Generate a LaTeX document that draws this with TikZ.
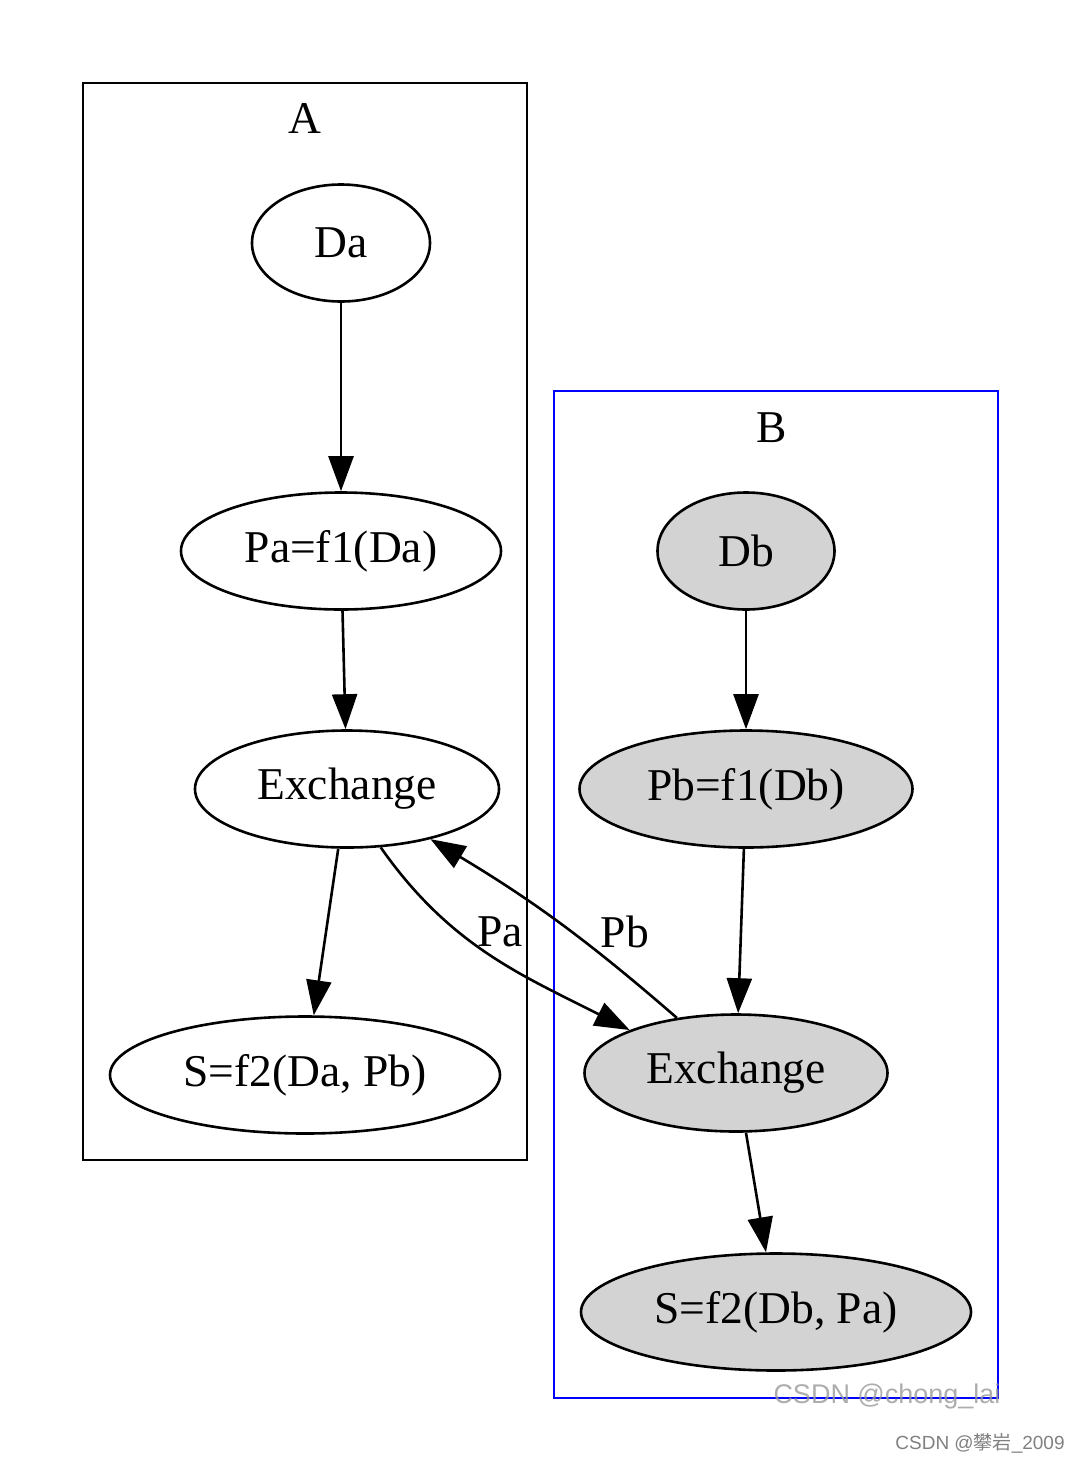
\documentclass[tikz,border=0pt]{standalone}
\usepackage{fontspec}
\setmainfont{Liberation Serif}
\newfontfamily\wmfont{Liberation Sans}
\newfontfamily\cjk{Noto Sans CJK SC}
\usetikzlibrary{shapes.geometric,arrows.meta}
\definecolor{nodegray}{RGB}{211,211,211}
\tikzset{
  gnode/.style={ellipse, draw, line width=2.6pt, inner sep=0pt,
    minimum height=117pt, font=\fontsize{45.5}{50}\selectfont},
  bnode/.style={gnode, fill=nodegray},
  edge/.style={line width=2.6pt, -{Triangle[length=35pt,width=25pt]}},
  cluster/.style={line width=2.6pt},
  elabel/.style={font=\fontsize{45.5}{50}\selectfont}
}
\begin{document}
\begin{tikzpicture}[x=1pt,y=1pt]
  \useasboundingbox (0,0) rectangle (1080,-1462);
  % cluster A
  \draw[cluster] (83,-83) rectangle (527,-1160);
  \node[elabel] (labA) at (305,-118) {A};
  \node[gnode, minimum width=178pt] (da) at (341,-243) {Da};
  \node[gnode, minimum width=320pt] (pa) at (341,-551) {Pa=f1(Da)};
  \node[gnode, minimum width=304pt] (exA) at (347,-789) {Exchange};
  \node[gnode, minimum width=390pt] (sa) at (305,-1075) {S=f2(Da, Pb)};
  % cluster B
  \draw[cluster, blue] (554,-391) rectangle (998,-1398);
  \node[elabel] (labB) at (772,-428) {B};
  \node[bnode, minimum width=177pt] (db) at (746,-551) {Db};
  \node[bnode, minimum width=333pt] (pb) at (746,-789) {Pb=f1(Db)};
  \node[bnode, minimum width=303pt] (exB) at (736,-1073) {Exchange};
  \node[bnode, minimum width=390pt] (sb) at (776,-1312) {S=f2(Db, Pa)};
  % edges
  \draw[edge] (da) -- (pa);
  \draw[edge] (pa) -- (exA);
  \draw[edge] (exA) -- (sa);
  \draw[edge] (db) -- (pb);
  \draw[edge] (pb) -- (exB);
  \draw[edge] (exB) -- (sb);
  % exchange between A and B
  \draw[edge] (exA.-60) to[out=-55,in=153] (exB.158);
  \draw[edge] (exB.137) to[bend right=5] (exA.-31);
  \node[elabel] (labPa) at (500,-932) {Pa};
  \node[elabel] (labPb) at (625,-932) {Pb};
  % watermarks
  \node[text=gray!80, opacity=0.8, font=\wmfont\fontsize{27}{30}\selectfont] (wm1) at (887,-1397) {CSDN @chong\_lai};
  \node[text=gray, font=\wmfont\fontsize{19}{22}\selectfont] (wm2) at (980,-1443) {CSDN @{\cjk 攀岩}\_2009};
\end{tikzpicture}
\end{document}
